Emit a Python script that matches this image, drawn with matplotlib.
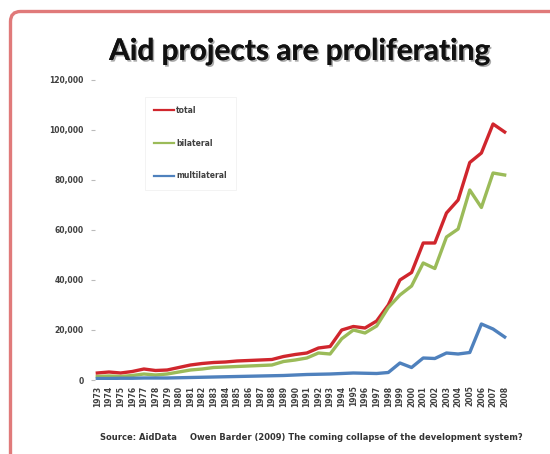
import matplotlib
matplotlib.use("Agg")
import matplotlib.pyplot as plt
import matplotlib.patheffects as pe
from matplotlib.patches import PathPatch
from matplotlib.path import Path
from matplotlib.ticker import FuncFormatter

years = list(range(1973, 2009))
total = [2800, 3200, 2800, 3400, 4400, 3800, 4000, 5000, 6000, 6600, 7000, 7200,
         7600, 7800, 8000, 8200, 9400, 10200, 10800, 12800, 13400, 20000, 21400, 20800,
         23600, 30000, 40000, 43000, 54800, 54800, 66800, 72000, 87000, 90800, 102400, 99200]
bilateral = [1400, 1600, 1400, 1800, 2400, 2000, 2400, 3200, 4000, 4400, 5000, 5200,
             5400, 5600, 5800, 6000, 7400, 8000, 8800, 10800, 10400, 16500, 20000, 18800,
             21600, 29000, 34000, 37600, 46800, 44600, 57200, 60400, 76000, 69000, 82800, 82000]
multilateral = [600, 600, 700, 700, 800, 800, 800, 900, 1000, 1100, 1200, 1300,
                1400, 1500, 1600, 1700, 1800, 2000, 2200, 2300, 2400, 2600, 2800, 2700,
                2600, 3000, 6800, 5000, 8800, 8600, 10800, 10400, 11000, 22400, 20400, 17200]
series_names = ["total", "bilateral", "multilateral"]
colors = ["#d0262d", "#9bbb59", "#4f81bd"]

W, H = 550, 454
fig = plt.figure(figsize=(5.5, 4.54), dpi=100)

# slide border (pixel coords, y from bottom)
bx, by, r = 10.5, H - 11.5, 10
verts = [(bx, -10), (bx, by - r), (bx, by), (bx + r, by), (W + 10, by)]
codes = [Path.MOVETO, Path.LINETO, Path.CURVE3, Path.CURVE3, Path.LINETO]
fig.patches.append(PathPatch(Path(verts, codes), transform=None, facecolor="none",
                             edgecolor="#e07a7a", linewidth=2.4, clip_on=False))

fig.text(300 / W, 1 - 51 / H, "Aid projects are proliferating", ha="center", va="center",
         fontsize=21.5, fontweight="bold", family="Lato", color="#111111",
         path_effects=[pe.withSimplePatchShadow(offset=(1.2, -1.2), shadow_rgbFace="#888888", alpha=0.7),
                       pe.Normal()])

ax = fig.add_axes([95 / W, 1 - 380 / H, 412 / W, 300 / H])
x = list(range(len(years)))
for vals, name, c in zip([total, bilateral, multilateral], series_names, colors):
    ax.plot(x, vals, color=c, linewidth=2.4, label=name, solid_joinstyle="round")

ax.set_xlim(-0.2, 35.2)
ax.set_ylim(0, 120000)
ax.set_yticks(range(0, 120001, 20000))
ax.yaxis.set_major_formatter(FuncFormatter(lambda v, p: f"{int(v):,}"))
ax.set_xticks(x)
ax.set_xticklabels([str(y) for y in years], rotation=90, fontsize=5.5, fontweight="bold", color="#404040")
for lab in ax.get_yticklabels():
    lab.set_fontsize(5.5)
    lab.set_fontweight("bold")
    lab.set_color("#404040")
ax.tick_params(axis="y", length=3, color="#bbbbbb", pad=5)
ax.tick_params(axis="x", length=0, pad=4)
for s in ax.spines.values():
    s.set_visible(False)

leg = ax.legend(loc="upper left", bbox_to_anchor=(46 / 412, 1 - 13 / 300),
                prop={"weight": "bold", "size": 5.5}, handlelength=2.6, handletextpad=0.3,
                labelspacing=3.1, borderpad=1.2, frameon=True, fancybox=False)
leg.get_frame().set_edgecolor("#eeeeee")
leg.get_frame().set_linewidth(0.6)
for h in leg.get_lines():
    h.set_linewidth(1.6)
for t in leg.get_texts():
    t.set_color("#404040")

fig.text(100 / W, 1 - 437 / H, "Source: AidData", fontsize=6, fontweight="bold", color="#333333", va="center")
fig.text(190 / W, 1 - 437 / H, "Owen Barder (2009) The coming collapse of the development system?",
         fontsize=6, fontweight="bold", color="#333333", va="center")

fig.savefig("out.png", dpi=100)
